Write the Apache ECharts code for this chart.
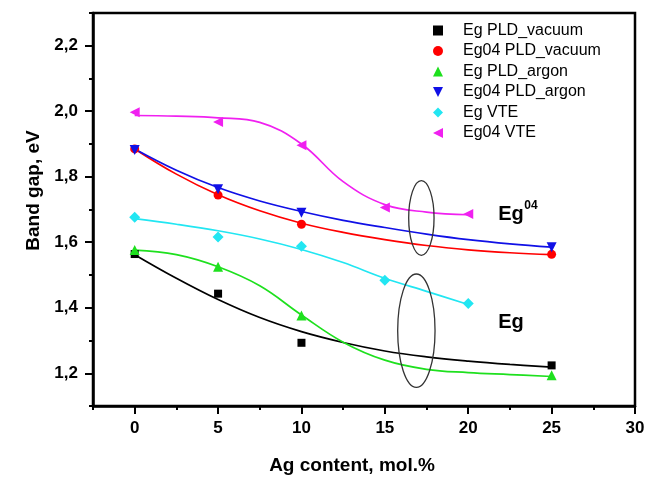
<!DOCTYPE html>
<html>
<head>
<meta charset="utf-8">
<script src="https://cdn.jsdelivr.net/npm/echarts@6/dist/echarts.min.js"></script>
<style>html,body{margin:0;padding:0;background:#fff}#c{width:654px;height:480px}</style>
</head>
<body>
<div id="c"></div>
<script>
// ---- data ----
const xMajorTicks = [0, 5, 10, 15, 20, 25, 30];
const yMajorTicks = [1.2, 1.4, 1.6, 1.8, 2.0, 2.2];

const pldContent = [0, 5, 10, 25];
const vteContent = [0, 5, 10, 15, 20];

const egPldVacuum   = [1.564, 1.443, 1.293, 1.224];
const eg04PldVacuum = [1.885, 1.744, 1.655, 1.563];
const egPldArgon    = [1.576, 1.525, 1.376, 1.194];
const eg04PldArgon  = [1.882, 1.762, 1.690, 1.585];
const egVte         = [1.676, 1.616, 1.588, 1.484, 1.413];
const eg04Vte       = [1.997, 1.967, 1.896, 1.706, 1.686];

// fitted curves
const fitX    = [0, 2.5, 5, 7.5, 10, 12.5, 15, 17.5, 20, 22.5, 25];
const fitVteX = [0, 2.5, 5, 7.5, 10, 12.5, 15, 17.5, 20];
const fitEgPldVacuum   = [1.562, 1.49, 1.425, 1.37, 1.327, 1.294, 1.268, 1.25, 1.237, 1.227, 1.219];
const fitEg04PldVacuum = [1.885, 1.808, 1.745, 1.696, 1.658, 1.63, 1.608, 1.59, 1.577, 1.568, 1.562];
const fitEgPldArgon    = [1.576, 1.562, 1.525, 1.467, 1.378, 1.295, 1.24, 1.212, 1.202, 1.196, 1.19];
const fitEg04PldArgon  = [1.885, 1.82, 1.767, 1.726, 1.694, 1.667, 1.645, 1.625, 1.608, 1.595, 1.585];
const fitEgVte         = [1.672, 1.655, 1.635, 1.61, 1.578, 1.538, 1.49, 1.45, 1.41];
const fitEg04Vte       = [1.987, 1.985, 1.98, 1.966, 1.9, 1.785, 1.715, 1.692, 1.684];

// annotation ellipses: [centerX, centerY, radiusX, radiusY] in data units
const ellipses = [[17.19, 1.674, 0.76, 0.114], [16.89, 1.33, 1.12, 0.173]];
// annotation labels: [leftX, centerY, main, superscript]
const notes = [[21.8, 1.685, 'Eg', '04'], [21.8, 1.355, 'Eg', '']];

// ---- chart ----
const FONT = '"Liberation Sans", Arial, Helvetica, sans-serif';
const zip = (xs, ys) => xs.map((x, i) => [x, ys[i]]);

const names = ['Eg PLD_vacuum', 'Eg04 PLD_vacuum', 'Eg PLD_argon', 'Eg04 PLD_argon', 'Eg VTE', 'Eg04 VTE'];
const colors = ['#000000', '#ff0000', '#1ee01e', '#1010e6', '#22e6f2', '#f020f0'];
const symbols = ['rect', 'circle', 'triangle', 'path://M0,0 L10,0 L5,10 Z', 'diamond', 'path://M10,0 L10,10 L0,5 Z'];
const sizes = [8, 9, 10, 10, 11, 10];
const pointsX = [pldContent, pldContent, pldContent, pldContent, vteContent, vteContent];
const pointsY = [egPldVacuum, eg04PldVacuum, egPldArgon, eg04PldArgon, egVte, eg04Vte];
const fitsX = [fitX, fitX, fitX, fitX, fitVteX, fitVteX];
const fitsY = [fitEgPldVacuum, fitEg04PldVacuum, fitEgPldArgon, fitEg04PldArgon, fitEgVte, fitEg04Vte];

const series = [];
names.forEach((n, i) => {
  series.push({
    name: n + ' fit', type: 'line', data: zip(fitsX[i], fitsY[i]), smooth: 0.4,
    showSymbol: false, silent: true, z: 2,
    lineStyle: { color: colors[i], width: 1.7 }
  });
});
names.forEach((n, i) => {
  series.push({
    name: n, type: 'scatter', data: zip(pointsX[i], pointsY[i]),
    symbol: symbols[i], symbolSize: sizes[i], z: 4,
    itemStyle: { color: colors[i], opacity: 1 }
  });
});
series.push({
  type: 'custom', silent: true, z: 3, data: ellipses,
  renderItem: (params, api) => {
    const c = api.coord([api.value(0), api.value(1)]);
    const s = api.size([api.value(2), api.value(3)]);
    return { type: 'ellipse', shape: { cx: c[0], cy: c[1], rx: s[0], ry: s[1] },
      style: { fill: 'none', stroke: '#333', lineWidth: 1.3 } };
  }
});
series.push({
  type: 'custom', silent: true, z: 5, data: notes,
  renderItem: (params, api) => {
    const d = notes[params.dataIndex];
    const c = api.coord([d[0], d[1]]);
    const children = [{ type: 'text', x: c[0], y: c[1],
      style: { text: d[2], font: 'bold 20px ' + FONT, fill: '#000', align: 'left', verticalAlign: 'middle' } }];
    if (d[3]) children.push({ type: 'text', x: c[0] + 26, y: c[1] - 9,
      style: { text: d[3], font: 'bold 12px ' + FONT, fill: '#000', align: 'left', verticalAlign: 'middle' } });
    return { type: 'group', children };
  }
});

const chart = echarts.init(document.getElementById('c'), null, { renderer: 'canvas' });
chart.setOption({
  animation: false,
  backgroundColor: '#fff',
  grid: { left: 93, right: 19, top: 13, bottom: 70, show: true, borderColor: '#000', borderWidth: 2.5, backgroundColor: 'transparent' },
  legend: {
    data: names, orient: 'vertical', left: 433, top: 22, padding: 0,
    itemWidth: 10, itemHeight: 10, itemGap: 3.5,
    textStyle: { fontFamily: FONT, fontSize: 16, color: '#000', lineHeight: 17, padding: [0, 0, 0, 15] }
  },
  xAxis: [{
    type: 'value', min: -2.5, max: 30, position: 'bottom',
    name: 'Ag content, mol.%', nameLocation: 'middle', nameGap: 50,
    nameTextStyle: { fontFamily: FONT, fontSize: 19, fontWeight: 'bold', color: '#000', padding: [0, 24, 0, 0] },
    axisLine: { show: true, onZero: false, lineStyle: { color: '#000', width: 2.5 } },
    axisTick: { show: true, inside: false, length: 8, lineStyle: { color: '#000', width: 2 }, customValues: xMajorTicks },
    axisLabel: { customValues: xMajorTicks, fontFamily: FONT, fontSize: 17, fontWeight: 'bold', color: '#000', margin: 14 },
    splitLine: { show: false }
  }, {
    type: 'value', min: -2.5, max: 30, interval: 2.5, position: 'bottom', offset: 0,
    axisLine: { show: false, onZero: false },
    axisTick: { show: true, inside: false, length: 4, lineStyle: { color: '#000', width: 2 } },
    axisLabel: { show: false }, splitLine: { show: false }
  }],
  yAxis: [{
    type: 'value', min: 1.1, max: 2.3, position: 'left',
    name: 'Band gap, eV', nameLocation: 'middle', nameGap: 50, nameRotate: 90,
    nameTextStyle: { fontFamily: FONT, fontSize: 19, fontWeight: 'bold', color: '#000', padding: [0, 0, 0, 38] },
    axisLine: { show: true, onZero: false, lineStyle: { color: '#000', width: 2.5 } },
    axisTick: { show: true, inside: false, length: 8, lineStyle: { color: '#000', width: 2 }, customValues: yMajorTicks },
    axisLabel: { customValues: yMajorTicks, fontFamily: FONT, fontSize: 17, fontWeight: 'bold', color: '#000', margin: 15,
      formatter: v => v.toFixed(1).replace('.', ',') },
    splitLine: { show: false }
  }, {
    type: 'value', min: 1.1, max: 2.3, interval: 0.1, position: 'left', offset: 0,
    axisLine: { show: false, onZero: false },
    axisTick: { show: true, inside: false, length: 4, lineStyle: { color: '#000', width: 2 } },
    axisLabel: { show: false }, splitLine: { show: false }
  }],
  series
});
</script>
</body>
</html>
